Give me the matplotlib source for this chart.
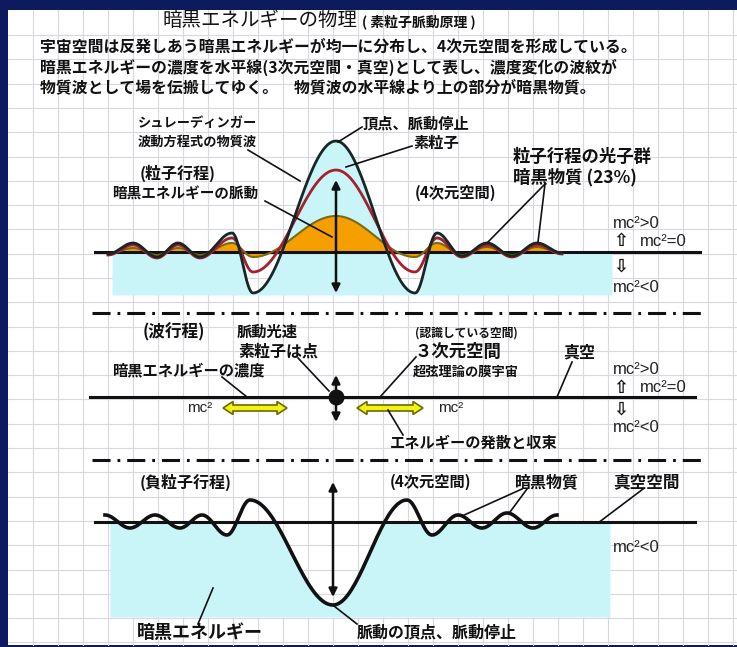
import numpy as np
import matplotlib
matplotlib.use('Agg')
import matplotlib.pyplot as plt
from matplotlib.patches import Rectangle, Polygon

plt.rcParams['font.family'] = ['Noto Sans CJK JP', 'DejaVu Sans']
plt.rcParams['lines.scale_dashes'] = False

# ---------------- data (pixel units) ----------------
top_knots_x = [108, 133, 157, 178, 200, 232, 253, 336, 415, 437, 462, 487, 512, 537, 562]
top_black   = [-2, 9, -5, 9, -5, 19, -41, 111, -41, 19, -4, 9, -4, 9, -1]
top_red     = [-3, 7, -6, 7, -6, 14, -20, 82, -20, 14, -5, 7, -5, 7, -2]
top_orange  = [-2, 4, -3, 4, -3, 9, -5, 36, -5, 9, -3, 5, -3, 5, -1]

bottom_knots_x = [105, 130, 155, 180, 202, 227, 250, 333, 407, 432, 458, 482, 507, 533, 557]
bottom_wave    = [7, -6, 7, -6, 7, -13, 22, -83, 22, -13, 7, -6, 9, -6, 7]

title = "暗黒エネルギーの物理"
subtitle = "( 素粒子脈動原理 )"
body_lines = [
    "宇宙空間は反発しあう暗黒エネルギーが均一に分布し、4次元空間を形成している。",
    "暗黒エネルギーの濃度を水平線(3次元空間・真空)として表し、濃度変化の波紋が",
    "物質波として場を伝搬してゆく。　物質波の水平線より上の部分が暗黒物質。",
]

W, H = 737, 647
CYAN = '#c9f5f9'
NAVY = '#0d1a5e'


def smooth(xk, yk, n=40):
    xs, ys = [], []
    for i in range(len(xk) - 1):
        t = np.linspace(0, 1, n, endpoint=(i == len(xk) - 2))
        w = (1 - np.cos(np.pi * t)) / 2
        xs.append(xk[i] + (xk[i + 1] - xk[i]) * t)
        ys.append(yk[i] + (yk[i + 1] - yk[i]) * w)
    return np.concatenate(xs), np.concatenate(ys)


fig = plt.figure(figsize=(W / 100, H / 100), dpi=100, facecolor=NAVY)
ax = fig.add_axes([0, 0, 1, 1])
ax.set_xlim(0, W)
ax.set_ylim(H, 0)
ax.axis('off')

# paper panel
ax.add_patch(Rectangle((8, 10), W - 8, 635, facecolor='white', edgecolor='none', zorder=0))
for gx in np.arange(33, W, 25):
    ax.plot([gx, gx], [10, 645], color='#d8d8e0', lw=0.8, zorder=0.5)
for gy in np.arange(35, 645, 24.3):
    ax.plot([8, W], [gy, gy], color='#d8d8e0', lw=0.8, zorder=0.5)


def txt(x, y, s, size, bold=True, ha='left', family=None, color='#111111'):
    kw = {}
    if family is not None:
        kw['family'] = family
    ax.text(x, y, s, fontsize=size, fontweight='bold' if bold else 'normal',
            ha=ha, va='center', color=color, zorder=10, **kw)


def leader(x0, y0, x1, y1):
    ax.plot([x0, x1], [y0, y1], color='#111111', lw=1.2, zorder=9)


def varrow(x, y0, y1):
    ax.annotate('', xy=(x, y0), xytext=(x, y1),
                arrowprops=dict(arrowstyle='<|-|>', color='#111111', lw=1.8,
                                mutation_scale=12, shrinkA=0, shrinkB=0), zorder=9)


def yellow_arrow(x0, x1, y, body=3.0, head=6.5, hl=10):
    pts = [(x0, y), (x0 + hl, y - head), (x0 + hl, y - body), (x1 - hl, y - body),
           (x1 - hl, y - head), (x1, y), (x1 - hl, y + head), (x1 - hl, y + body),
           (x0 + hl, y + body), (x0 + hl, y + head)]
    ax.add_patch(Polygon(pts, closed=True, facecolor='#f2f214', edgecolor='#6b6b00',
                         lw=1.2, zorder=8))


def sep(y):
    ax.plot([92, 702], [y, y], color='#111111', lw=2.2,
            linestyle=(0, (13, 5, 2, 5)), zorder=6)


mc_fam = ['Liberation Sans', 'DejaVu Sans']
arr_fam = ['DejaVu Sans']


def mc_labels(y_gt, y_eq, y_dn, y_lt):
    txt(613, y_gt, "mc²>0", 12, bold=False, family=mc_fam, color='#222222')
    txt(613, y_eq, "⇧", 13, bold=True, family=arr_fam)
    txt(640, y_eq, "mc²=0", 12, bold=False, family=mc_fam, color='#222222')
    txt(613, y_dn, "⇩", 13, bold=True, family=arr_fam)
    txt(613, y_lt, "mc²<0", 12, bold=False, family=mc_fam, color='#222222')


# ---------------- header text ----------------
txt(163, 20, title, 14.0, bold=False)
txt(362, 22, subtitle, 10, bold=True)
for i, line in enumerate(body_lines):
    txt(40, 47 + 20 * i, line, 11.4, bold=True)

# ---------------- top panel: particle process ----------------
base1 = 252
bottom1 = 295
xb, yb = smooth(top_knots_x, top_black)
xr, yr = smooth(top_knots_x, top_red)
xo, yo = smooth(top_knots_x, top_orange)
yb_px, yr_px, yo_px = base1 - yb, base1 - yr, base1 - yo

xg = np.linspace(112, 612, 1200)
top_fill = np.interp(xg, xb, yb_px, left=base1, right=base1)
ax.fill_between(xg, top_fill, bottom1, color=CYAN, lw=0, zorder=1)
ax.fill_between(xo, yo_px, base1, color='#f5a000', lw=0, zorder=2)
ax.plot([95, 700], [base1, base1], color='#111111', lw=2.2, zorder=3)
ax.plot(xo, yo_px, color='#7a6a10', lw=1.5, zorder=4)
ax.plot(xr, yr_px, color='#a5202e', lw=2.0, zorder=5)
ax.plot(xb, yb_px, color='#1a2626', lw=2.0, zorder=5)
varrow(336, 180, 293)

txt(138, 123, "シュレーディンガー", 9.5)
txt(138, 142, "波動方程式の物質波", 9.5)
leader(248, 150, 300, 181)
txt(363, 124, "頂点、脈動停止", 11)
leader(362, 127, 338, 142)
txt(413, 143, "素粒子", 11)
leader(412, 146, 346, 167)
txt(140, 173, "(粒子行程)", 11.5)
txt(112, 194, "暗黒エネルギーの脈動", 10.5)
leader(265, 201, 332, 237)
txt(415, 193, "(4次元空間)", 11)
txt(513, 157, "粒子行程の光子群", 12.5)
txt(513, 177, "暗黒物質 (23%)", 12.5)
leader(545, 184, 488, 242)
leader(545, 184, 538, 242)
mc_labels(223, 241, 267, 288)

sep(313)

# ---------------- middle panel: wave process ----------------
base2 = 397
ax.plot([90, 695], [base2, base2], color='#111111', lw=2.2, zorder=3)
ax.plot([336], [base2], 'o', color='#111111', markersize=10.5, zorder=8)
varrow(336, 375, 422)
yellow_arrow(223, 287, 408)
yellow_arrow(357, 423, 408)
txt(143, 332, "(波行程)", 12)
txt(237, 332, "脈動光速", 11)
txt(238, 352, "素粒子は点", 11.5)
leader(298, 358, 329, 391)
txt(112, 370, "暗黒エネルギーの濃度", 11)
leader(222, 377, 247, 397)
txt(187, 408, "mc²", 11, bold=False, family=mc_fam, color='#222222')
txt(438, 408, "mc²", 11, bold=False, family=mc_fam, color='#222222')
txt(415, 333, "(認識している空間)", 8.5)
txt(415, 352, "３次元空間", 12.5)
leader(416, 357, 380, 397)
txt(413, 372, "超弦理論の膜宇宙", 9.5)
txt(563, 352, "真空", 11.5)
leader(572, 362, 557, 397)
txt(390, 443, "エネルギーの発散と収束", 11)
leader(388, 410, 403, 435)
mc_labels(370, 388, 410, 428)

sep(460)

# ---------------- bottom panel: negative particle process ----------------
base3 = 522
bottom3 = 617
xw, yw = smooth(bottom_knots_x, bottom_wave)
yw_px = base3 - yw
xg3 = np.linspace(110, 610, 1200)
bot_top = np.maximum(np.interp(xg3, xw, yw_px, left=base3, right=base3), base3)
ax.fill_between(xg3, bot_top, bottom3, color=CYAN, lw=0, zorder=1)
ax.plot([95, 695], [base3, base3], color='#111111', lw=2.2, zorder=3)
ax.plot(xw, yw_px, color='#111111', lw=2.6, zorder=5)
varrow(333, 482, 597)

txt(140, 482, "(負粒子行程)", 11.5)
txt(390, 482, "(4次元空間)", 11)
txt(515, 482, "暗黒物質", 11.5)
leader(522, 489, 462, 516)
leader(527, 489, 510, 512)
txt(613, 482, "真空空間", 12)
leader(643, 489, 598, 523)
txt(613, 547, "mc²<0", 12, bold=False, family=mc_fam, color='#222222')
txt(137, 632, "暗黒エネルギー", 13)
leader(198, 624, 213, 588)
txt(357, 633, "脈動の頂点、脈動停止", 11.5)
leader(357, 624, 334, 606)

fig.savefig('out.png', dpi=100, facecolor=NAVY)
